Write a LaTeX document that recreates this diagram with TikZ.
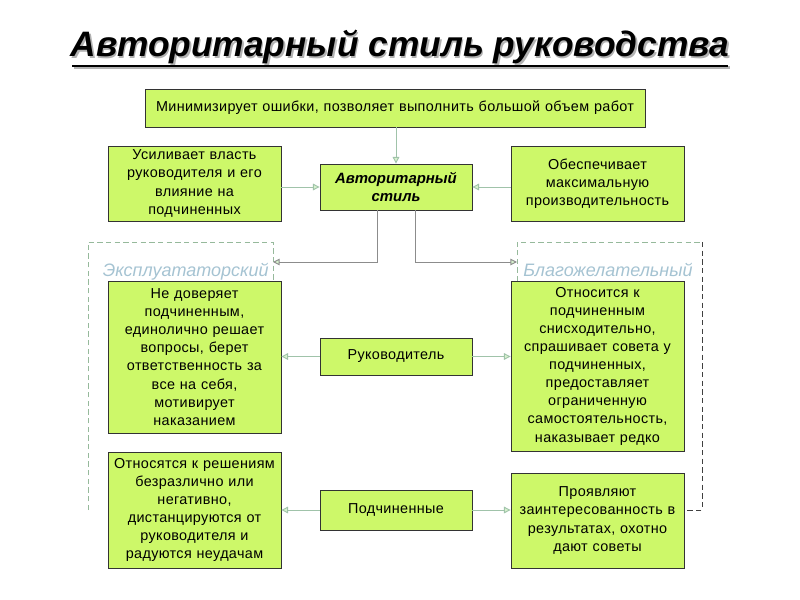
\documentclass[tikz,border=0pt]{standalone}
\usepackage{fontspec}
\setmainfont{Liberation Sans}
\newfontfamily\boxfont[LetterSpace=2.5]{Liberation Sans}
\usetikzlibrary{arrows.meta,shadows}
\definecolor{boxfill}{RGB}{205,248,105}
\definecolor{connc}{RGB}{160,195,170}
\definecolor{headfill}{RGB}{215,242,205}
\definecolor{framec}{RGB}{150,185,155}
\definecolor{labelc}{RGB}{165,195,210}
\begin{document}
\begin{tikzpicture}[x=0.75pt,y=-0.75pt,
  greenbox/.style={draw=black!80, line width=0.6pt, fill=boxfill, align=center, inner xsep=0.5pt, inner ysep=2pt,
    font=\boxfont\fontsize{10.8}{13.6}\selectfont,
    drop shadow={shadow xshift=1pt,shadow yshift=-1pt,fill=black!75,opacity=1}},
  sidebox/.style={greenbox, minimum width=129.75pt, text width=128pt},
  midbox/.style={greenbox, minimum width=114pt, text width=112pt},
  conn/.style={draw=connc, line width=0.7pt, -{Triangle[length=5pt,width=5pt,fill=headfill]}},
  frame/.style={draw=framec, line width=0.7pt, dash pattern=on 4pt off 2.5pt},
  framelabel/.style={font=\fontsize{13.5}{15}\selectfont\itshape, text=labelc, inner sep=0pt}
]
\useasboundingbox (0,0) rectangle (800,600);
% title
\node[font=\fontsize{26.5}{30}\selectfont\bfseries\itshape, text=black!30] at (401.5,48.5) {Авторитарный стиль руководства};
\node (title) [font=\fontsize{26.5}{30}\selectfont\bfseries\itshape] at (400,47) {Авторитарный стиль руководства};
\draw[line width=2pt, black!30] (73.5,67.5) -- (729.5,67.5);
\draw[line width=2pt] (72,66) -- (728,66);
% frames
\draw[frame] (88,510) -- (88,242) -- (273,242) -- (273,290);
\draw[frame] (517,290) -- (517,242) -- (702,242);
\draw[frame, draw=black!75] (702,242) -- (702,510) -- (660,510);
\node[framelabel, anchor=base east] (lblL) at (269,276) {Эксплуататорский};
\node[framelabel, anchor=base west] (lblR) at (523,276) {Благожелательный};
% boxes
\node[greenbox, minimum width=375pt, text width=372pt, minimum height=28.5pt] (top) at (395,108) {Минимизирует ошибки, позволяет выполнить большой объем работ};
\node[sidebox, minimum height=56.25pt] (L1) at (194.5,183.5) {Усиливает власть\\руководителя и его\\влияние на\\подчиненных};
\node[midbox, minimum height=34.5pt, font=\fontsize{11.2}{13.6}\selectfont\bfseries\itshape] (C1) at (396,187) {Авторитарный\\стиль};
\node[sidebox, minimum height=56.25pt] (R1) at (597.5,183.5) {Обеспечивает\\максимальную\\производительность};
\node[sidebox, minimum height=114pt] (L2) at (194.5,357) {Не доверяет\\подчиненным,\\единолично решает\\вопросы, берет\\ответственность за\\все на себя,\\мотивирует\\наказанием};
\node[midbox, minimum height=27.75pt] (C2) at (396,356.5) {Руководитель};
\node[sidebox, minimum height=127.5pt] (R2) at (597.5,366) {Относится к\\подчиненным\\снисходительно,\\спрашивает совета у\\подчиненных,\\предоставляет\\ограниченную\\самостоятельность,\\наказывает редко};
\node[sidebox, minimum height=87pt] (L3) at (194.5,510) {Относятся к решениям\\безразлично или\\негативно,\\дистанцируются от\\руководителя и\\радуются неудачам};
\node[midbox, minimum height=30pt] (C3) at (396,510) {Подчиненные};
\node[sidebox, minimum height=71.25pt] (R3) at (597.5,520.5) {Проявляют\\заинтересованность в\\результатах, охотно\\дают советы};
% connectors
\draw[conn] (top.south -| C1.north) -- (C1.north);
\draw[conn] (L1.east |- C1.west) -- (C1.west);
\draw[conn] (R1.west |- C1.east) -- (C1.east);
\coordinate (fL) at (273,262);
\coordinate (fR) at (517,262);
\draw[conn, draw=black!45] ([xshift=-14.25pt]C1.south) |- (fL);
\draw[conn, draw=black!45] ([xshift=14.25pt]C1.south) |- (fR);
\draw[conn] (C2.west) -- (C2.west -| L2.east);
\draw[conn] (C2.east) -- (C2.east -| R2.west);
\draw[conn] (C3.west) -- (C3.west -| L3.east);
\draw[conn] (C3.east) -- (C3.east -| R3.west);
\end{tikzpicture}
\end{document}
